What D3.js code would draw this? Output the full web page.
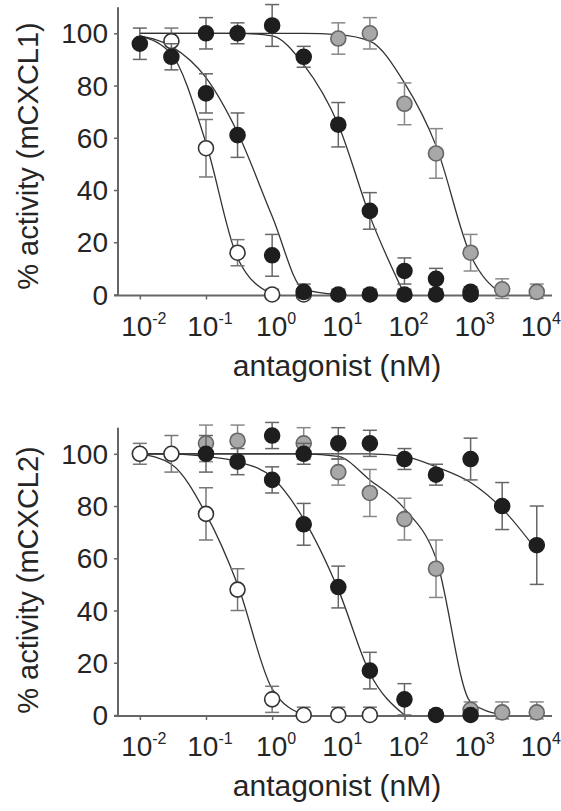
<!DOCTYPE html>
<html><head><meta charset="utf-8">
<script src="https://cdn.jsdelivr.net/npm/d3@7"></script>
<style>body{margin:0;background:#fff}svg{display:block}</style>
</head><body>
<script>
// ---------- data ----------
const doses = [0.01, 0.03, 0.1, 0.3, 1, 3, 10, 30, 100, 300, 1000, 3000, 10000];
const xTickExps = [-2, -1, 0, 1, 2, 3, 4];
const yTicks = [0, 20, 40, 60, 80, 100];
const xAxisTitle = "antagonist (nM)";
const yTitles = ["% activity (mCXCL1)", "% activity (mCXCL2)"];

// Panel 1: mCXCL1
const c1OpenVal   = [null, 97, 56, 16, 0, 0, null, null, null, null, null, null, null];
const c1OpenErr   = [null, 5, 11, 5, 2, 2, null, null, null, null, null, null, null];
const c1GrayVal   = [null, null, null, null, null, null, 98, 100, 73, 54, 16, 2, 1];
const c1GrayErr   = [null, null, null, null, null, null, 6, 6, 8, 9.5, 7, 4, 3];
const c1BlackAVal = [96, 91, 77, 61, 15, 1, 0, 0, 0, 0, 0, null, null];
const c1BlackAErr = [6, 5, 7.5, 8.5, 8, 3, 2, 2, 2, 2, 2, null, null];
const c1BlackBVal = [null, null, 100, 100, 103, 91, 65, 32, 9, 6, 1, null, null];
const c1BlackBErr = [null, null, 6, 4, 8, 4, 8.5, 7, 5, 4, 2, null, null];
const c1FitOpen   = [99, 92, 58, 14, 0, null, null, null, null, null, null, null, null];
const c1FitBlackA = [99, 95, 83, 62, 30, 2, 0, null, null, null, null, null, null];
const c1FitBlackB = [100, 100, 100, 100, 99, 88, 65, 30, 0, null, null, null, null];
const c1FitGray   = [100, 100, 100, 100, 100, 100, 99.5, 97, 81, 57, 15, 0, null];

// Panel 2: mCXCL2
const c2OpenVal   = [100, 100, 77, 48, 6, 0, 0, 0, null, null, null, null, null];
const c2OpenErr   = [4, 7, 10, 8, 5, 3, 3, 3, null, null, null, null, null];
const c2GrayVal   = [null, null, 104, 105, null, 104, 93, 85, 75, 56, 2, 1, 1];
const c2GrayErr   = [null, null, 7, 6, null, 6, 5, 9, 8, 11, 3, 4, 4];
const c2BlackAVal = [null, null, null, null, 90, 73, 49, 17, 6, 0, 0, null, null];
const c2BlackAErr = [null, null, null, null, 5, 8, 8, 7, 6, 2, 2, null, null];
const c2BlackBVal = [null, null, 100, 97, 107, 100, 104, 104, 98, 92, 98, 80, 65];
const c2BlackBErr = [null, null, 7, 5, 5, 4, 6, 5, 4, 4, 8, 9, 15];
const c2FitOpen   = [100, 96, 77, 50, 10, 0, null, null, null, null, null, null, null];
const c2FitBlackA = [100, 100, 99, 97, 91, 75, 48, 16, 0, null, null, null, null];
const c2FitBlackB = [100, 100, 100, 100, 100, 100, 100, 100, 99, 95, 89, 79, 63];
const c2FitGray   = [100, 100, 100, 100, 100, 100, 99, 90, 79, 60, 5, 0, null];

// ---------- drawing ----------
const W = 561, H = 811;
const svg = d3.select("body").append("svg").attr("width", W).attr("height", H)
  .style("font-family", "'Liberation Sans', Arial, sans-serif");

const x = d3.scaleLog().domain([Math.pow(10, -2.33), Math.pow(10, 4.2)]).range([118, 550]);

const styles = {
  open:  {fill: "#ffffff", stroke: "#333", err: "#777"},
  gray:  {fill: "#a8a8a8", stroke: "#666", err: "#888"},
  black: {fill: "#1e1e1e", stroke: "#1e1e1e", err: "#666"}
};

function panel(cfg) {
  const y = d3.scaleLinear().domain([0, 110]).range([cfg.y0, cfg.y0 - 110 * 2.612]);
  const g = svg.append("g");

  // axes
  const yAxis = g.append("g").attr("transform", `translate(118,0)`)
    .call(d3.axisLeft(y).tickValues(yTicks).tickSize(4).tickFormat(""));
  const xAxis = g.append("g").attr("transform", `translate(0,${cfg.y0 + 1})`)
    .call(d3.axisBottom(x).tickValues(xTickExps.map(e => Math.pow(10, e))).tickSize(4).tickFormat(""));
  [yAxis, xAxis].forEach(a => {
    a.select(".domain").attr("stroke", "#666").attr("stroke-width", 2);
    a.selectAll(".tick line").attr("stroke", "#666").attr("stroke-width", 1.5);
  });
  xAxis.select(".domain").attr("d", `M114,0H552`);
  yAxis.select(".domain").attr("d", `M0,${cfg.y0 - 110 * 2.612}V${cfg.y0 + 1}`);

  // y tick labels
  g.selectAll(".ylab").data(yTicks).enter().append("text")
    .attr("x", 108).attr("y", d => y(d)).attr("dy", "0.36em")
    .attr("text-anchor", "end").attr("font-size", 28).attr("fill", "#252525")
    .text(d => d);

  // x tick labels
  const xl = g.selectAll(".xlab").data(xTickExps).enter().append("text")
    .attr("x", d => x(Math.pow(10, d)) + 4).attr("y", cfg.y0 + 41)
    .attr("text-anchor", "middle").attr("font-size", 28).attr("fill", "#252525");
  xl.append("tspan").text("10");
  xl.append("tspan").attr("dy", -12).attr("font-size", 16).text(d => d);

  // titles
  g.append("text").attr("x", 337).attr("y", cfg.y0 + 81)
    .attr("text-anchor", "middle").attr("font-size", 30).attr("fill", "#252525").text(xAxisTitle);
  g.append("text").attr("transform", `translate(38,${cfg.yMid}) rotate(-90)`)
    .attr("text-anchor", "middle").attr("font-size", 29).attr("fill", "#252525").text(cfg.title);

  // fit curves
  const line = d3.line()
    .defined(d => d.v != null)
    .x(d => x(d.x)).y(d => y(d.v))
    .curve(d3.curveMonotoneX);
  cfg.fits.forEach(f => {
    g.append("path").datum(doses.map((d, i) => ({x: d, v: f[i]})))
      .attr("d", line).attr("fill", "none").attr("stroke", "#333").attr("stroke-width", 1.3);
  });

  // series: error bars then points
  cfg.series.forEach(s => {
    const st = styles[s.kind];
    const pts = doses.map((d, i) => ({x: d, v: s.vals[i], e: s.errs[i]})).filter(p => p.v != null);
    const eg = g.append("g").attr("stroke", st.err).attr("stroke-width", 1.5).attr("fill", "none");
    pts.filter(p => p.e != null).forEach(p => {
      const cx = x(p.x), top = y(p.v + p.e), bot = y(Math.max(p.v - p.e, -1.5));
      eg.append("line").attr("x1", cx).attr("x2", cx).attr("y1", top).attr("y2", bot);
      eg.append("line").attr("x1", cx - 7).attr("x2", cx + 7).attr("y1", top).attr("y2", top);
      eg.append("line").attr("x1", cx - 7).attr("x2", cx + 7).attr("y1", bot).attr("y2", bot);
    });
    g.append("g").selectAll("circle").data(pts).enter().append("circle")
      .attr("cx", p => x(p.x)).attr("cy", p => y(p.v)).attr("r", 7.5)
      .attr("fill", st.fill).attr("stroke", st.stroke).attr("stroke-width", 1.6);
  });
}

panel({
  y0: 294.5, yMid: 156, title: yTitles[0],
  fits: [c1FitOpen, c1FitBlackA, c1FitBlackB, c1FitGray],
  series: [
    {kind: "open", vals: c1OpenVal, errs: c1OpenErr},
    {kind: "gray", vals: c1GrayVal, errs: c1GrayErr},
    {kind: "black", vals: c1BlackBVal, errs: c1BlackBErr},
    {kind: "black", vals: c1BlackAVal, errs: c1BlackAErr}
  ]
});
panel({
  y0: 715, yMid: 580, title: yTitles[1],
  fits: [c2FitOpen, c2FitBlackA, c2FitBlackB, c2FitGray],
  series: [
    {kind: "open", vals: c2OpenVal, errs: c2OpenErr},
    {kind: "gray", vals: c2GrayVal, errs: c2GrayErr},
    {kind: "black", vals: c2BlackBVal, errs: c2BlackBErr},
    {kind: "black", vals: c2BlackAVal, errs: c2BlackAErr}
  ]
});
</script>
</body></html>
